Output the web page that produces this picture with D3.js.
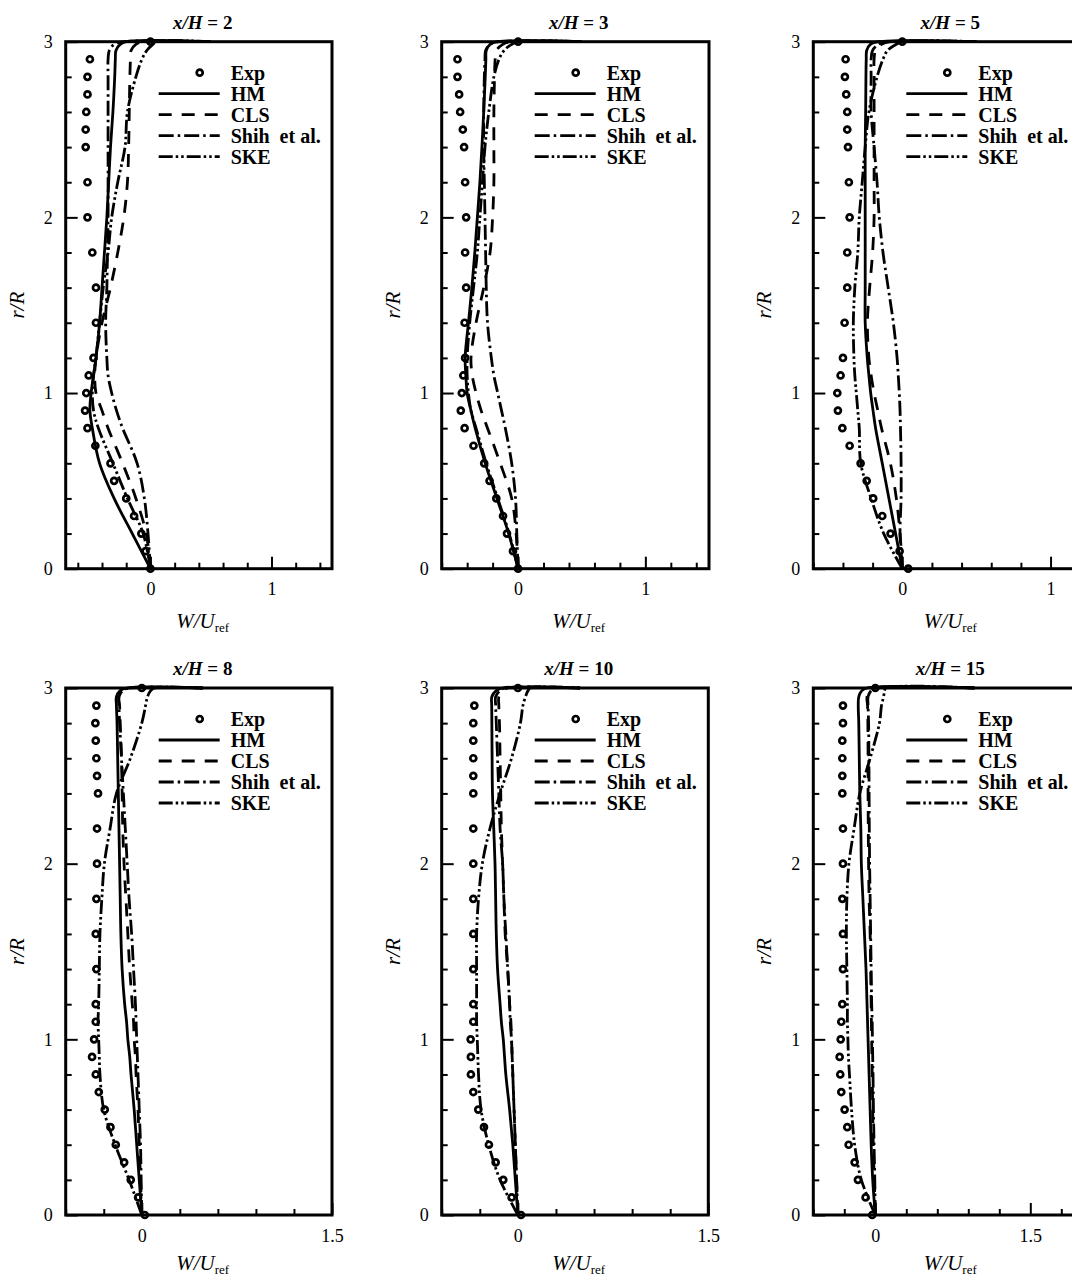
<!DOCTYPE html>
<html>
<head>
<meta charset="utf-8">
<script src="https://cdn.jsdelivr.net/npm/d3@7"></script>
<style>
  body { margin: 0; background: #fff; }
  svg { display: block; font-family: "Liberation Serif", "Times New Roman", serif; }
</style>
</head>
<body>
<svg id="chart" width="1072" height="1279"></svg>
<script>
// r/R of the measured points, wall to axis
const rExp = [3.0, 2.9, 2.8, 2.7, 2.6, 2.5, 2.4, 2.2, 2.0, 1.8, 1.6, 1.4, 1.2, 1.1, 1.0, 0.9, 0.8, 0.7, 0.6, 0.5, 0.4, 0.3, 0.2, 0.1, 0.0];
// r/R of the model curves, axis to wall (the last two run along the wall)
const rModel = [0, 0.2, 0.4, 0.6, 0.8, 0.9, 1.0, 1.1, 1.2, 1.4, 1.6, 1.8, 2.0, 2.2, 2.4, 2.6, 2.8, 2.9, 2.95, 2.985, 3.0, 3.0];

const titles = ["2", "3", "5", "8", "10", "15"];
const legendNames = ["Exp", "HM", "CLS", "Shih  et al.", "SKE"];

// x/H = 2
const exp2  = [0, -0.50, -0.52, -0.52, -0.53, -0.535, -0.535, -0.52, -0.52, -0.48, -0.45, -0.45, -0.47, -0.51, -0.53, -0.54, -0.52, -0.455, -0.33, -0.30, -0.20, -0.135, -0.075, -0.04, 0];
const hm2   = [0, -0.15, -0.30, -0.42, -0.48, -0.50, -0.49, -0.47, -0.45, -0.42, -0.40, -0.38, -0.36, -0.345, -0.33, -0.31, -0.295, -0.29, -0.285, -0.25, -0.2, 0.5];
const cls2  = [0, -0.035, -0.12, -0.23, -0.35, -0.40, -0.45, -0.46, -0.45, -0.40, -0.33, -0.27, -0.22, -0.19, -0.18, -0.175, -0.17, -0.165, -0.16, -0.12, -0.05, 0.5];
const shih2 = [0, -0.02, -0.05, -0.11, -0.23, -0.28, -0.32, -0.35, -0.36, -0.37, -0.36, -0.355, -0.35, -0.35, -0.35, -0.35, -0.35, -0.35, -0.34, -0.30, -0.22, 0.5];
const ske2  = [0, -0.06, -0.19, -0.31, -0.43, -0.47, -0.48, -0.47, -0.45, -0.42, -0.39, -0.35, -0.32, -0.27, -0.21, -0.19, -0.12, -0.07, -0.03, 0.02, 0.05, 0.5];

// x/H = 3
const exp3  = [0, -0.476, -0.476, -0.463, -0.455, -0.434, -0.424, -0.416, -0.408, -0.416, -0.408, -0.42, -0.416, -0.43, -0.442, -0.45, -0.42, -0.35, -0.266, -0.224, -0.171, -0.118, -0.087, -0.04, 0];
const hm3   = [0, -0.074, -0.166, -0.258, -0.337, -0.37, -0.40, -0.41, -0.416, -0.39, -0.363, -0.34, -0.32, -0.30, -0.284, -0.27, -0.258, -0.253, -0.25, -0.22, -0.16, 0.5];
const cls3  = [0, -0.015, -0.05, -0.14, -0.24, -0.29, -0.33, -0.36, -0.37, -0.33, -0.27, -0.22, -0.20, -0.19, -0.19, -0.19, -0.185, -0.18, -0.17, -0.12, -0.05, 0.5];
const shih3 = [0, -0.01, -0.02, -0.05, -0.10, -0.13, -0.16, -0.19, -0.21, -0.24, -0.25, -0.255, -0.26, -0.265, -0.27, -0.27, -0.265, -0.26, -0.255, -0.22, -0.15, 0.5];
const ske3  = [0, -0.07, -0.16, -0.25, -0.33, -0.37, -0.39, -0.40, -0.40, -0.38, -0.35, -0.32, -0.30, -0.28, -0.26, -0.23, -0.19, -0.15, -0.11, -0.05, 0.0, 0.5];

// x/H = 5
const exp5  = [0, -0.382, -0.387, -0.378, -0.371, -0.371, -0.366, -0.36, -0.355, -0.371, -0.371, -0.389, -0.40, -0.416, -0.438, -0.434, -0.404, -0.355, -0.281, -0.24, -0.196, -0.135, -0.079, -0.018, 0.04];
const hm5   = [0, -0.045, -0.09, -0.135, -0.18, -0.197, -0.213, -0.225, -0.236, -0.25, -0.25, -0.25, -0.25, -0.25, -0.25, -0.247, -0.245, -0.243, -0.24, -0.215, -0.16, 0.5];
const cls5  = [0, -0.015, -0.04, -0.08, -0.14, -0.165, -0.19, -0.21, -0.225, -0.235, -0.22, -0.20, -0.19, -0.19, -0.19, -0.19, -0.19, -0.19, -0.18, -0.14, -0.08, 0.5];
const shih5 = [0, -0.015, -0.008, -0.008, -0.012, -0.015, -0.02, -0.027, -0.035, -0.06, -0.095, -0.13, -0.155, -0.17, -0.19, -0.21, -0.21, -0.21, -0.20, -0.16, -0.10, 0.5];
const ske5  = [0, -0.125, -0.21, -0.28, -0.29, -0.30, -0.31, -0.32, -0.326, -0.33, -0.32, -0.30, -0.29, -0.27, -0.25, -0.225, -0.17, -0.13, -0.10, -0.04, 0.0, 0.5];

// x/H = 8
const exp8  = [0, -0.358, -0.366, -0.363, -0.358, -0.353, -0.345, -0.353, -0.353, -0.358, -0.363, -0.358, -0.363, -0.363, -0.376, -0.392, -0.363, -0.339, -0.292, -0.247, -0.205, -0.139, -0.087, -0.029, 0.024];
const hm8   = [0, -0.02, -0.04, -0.06, -0.085, -0.095, -0.11, -0.12, -0.135, -0.155, -0.165, -0.17, -0.175, -0.18, -0.185, -0.19, -0.195, -0.2, -0.2, -0.17, -0.12, 0.48];
const cls8  = [0, -0.01, -0.02, -0.03, -0.045, -0.05, -0.06, -0.065, -0.075, -0.095, -0.11, -0.125, -0.14, -0.15, -0.155, -0.16, -0.17, -0.175, -0.18, -0.15, -0.10, 0.48];
const shih8 = [0, -0.005, -0.01, -0.02, -0.03, -0.035, -0.04, -0.045, -0.05, -0.065, -0.08, -0.10, -0.115, -0.13, -0.145, -0.16, -0.175, -0.18, -0.18, -0.15, -0.10, 0.48];
const ske8  = [0, -0.10, -0.21, -0.30, -0.33, -0.335, -0.34, -0.345, -0.34, -0.335, -0.33, -0.315, -0.295, -0.25, -0.20, -0.09, 0.0, 0.03, 0.045, 0.07, 0.10, 0.48];

// x/H = 10
const exp10  = [0, -0.343, -0.351, -0.351, -0.351, -0.351, -0.351, -0.351, -0.351, -0.351, -0.351, -0.351, -0.351, -0.351, -0.372, -0.37, -0.37, -0.351, -0.312, -0.267, -0.228, -0.175, -0.115, -0.049, 0.025];
const hm10   = [0, -0.02, -0.04, -0.065, -0.095, -0.105, -0.115, -0.13, -0.14, -0.16, -0.17, -0.175, -0.18, -0.19, -0.20, -0.203, -0.205, -0.206, -0.205, -0.17, -0.12, 0.49];
const cls10  = [0, -0.01, -0.02, -0.03, -0.04, -0.045, -0.05, -0.055, -0.065, -0.08, -0.10, -0.11, -0.12, -0.13, -0.135, -0.14, -0.145, -0.15, -0.15, -0.12, -0.08, 0.49];
const shih10 = [0, -0.01, -0.02, -0.03, -0.04, -0.045, -0.05, -0.06, -0.065, -0.08, -0.095, -0.11, -0.12, -0.14, -0.15, -0.16, -0.17, -0.175, -0.175, -0.14, -0.10, 0.49];
const ske10  = [0, -0.14, -0.23, -0.29, -0.31, -0.315, -0.32, -0.325, -0.325, -0.325, -0.325, -0.31, -0.28, -0.22, -0.14, -0.05, 0.02, 0.04, 0.06, 0.08, 0.10, 0.49];

// x/H = 15
const exp15  = [0, -0.313, -0.313, -0.319, -0.319, -0.319, -0.319, -0.313, -0.313, -0.319, -0.313, -0.313, -0.319, -0.329, -0.335, -0.345, -0.339, -0.329, -0.297, -0.271, -0.258, -0.20, -0.168, -0.094, -0.03];
const hm15   = [0, -0.025, -0.04, -0.05, -0.06, -0.065, -0.07, -0.075, -0.08, -0.09, -0.105, -0.12, -0.135, -0.14, -0.15, -0.155, -0.16, -0.165, -0.16, -0.13, -0.08, 0.96];
const cls15  = [0, -0.01, -0.02, -0.025, -0.03, -0.033, -0.035, -0.038, -0.04, -0.045, -0.05, -0.06, -0.065, -0.068, -0.07, -0.07, -0.072, -0.075, -0.08, -0.05, 0.0, 0.96];
const shih15 = [0, -0.005, -0.012, -0.018, -0.022, -0.025, -0.028, -0.03, -0.035, -0.04, -0.045, -0.05, -0.055, -0.058, -0.06, -0.062, -0.065, -0.07, -0.07, -0.04, 0.0, 0.96];
const ske15  = [0, -0.135, -0.20, -0.23, -0.25, -0.26, -0.265, -0.27, -0.27, -0.275, -0.28, -0.275, -0.255, -0.205, -0.15, -0.05, 0.04, 0.06, 0.08, 0.09, 0.10, 0.96];

const expSets = [exp2, exp3, exp5, exp8, exp10, exp15];
const modelSets = [
  [hm2, cls2, shih2, ske2],
  [hm3, cls3, shih3, ske3],
  [hm5, cls5, shih5, ske5],
  [hm8, cls8, shih8, ske8],
  [hm10, cls10, shih10, ske10],
  [hm15, cls15, shih15, ske15]
];

// frame placement of each panel
const frames = [
  {left: 65.7,  top: 41.7, width: 266.3, xDom: [-0.7, 1.5], step: 0.2, major: [0, 1]},
  {left: 441.7, top: 41.7, width: 267.3, xDom: [-0.6, 1.5], step: 0.2, major: [0, 1]},
  {left: 813.3, top: 41.7, width: 311.4, xDom: [-0.6, 1.5], step: 0.2, major: [0, 1]},
  {left: 65.7,  top: 688,  width: 266.3, xDom: [-0.6, 1.5], step: 0.3, major: [0, 1.5]},
  {left: 441.7, top: 688,  width: 266.6, xDom: [-0.6, 1.5], step: 0.3, major: [0, 1.5]},
  {left: 813.3, top: 688,  width: 310,   xDom: [-0.6, 2.4], step: 0.3, major: [0, 1.5]}
];
const frameH = 527;

const dashes = [null, "13,10", "15,4,2.5,4", "14,3,2.5,3,2.5,3"];

const svg = d3.select("#chart");

function stepTicks(dom, step) {
  const lo = Math.ceil(dom[0] / step - 1e-9), hi = Math.floor(dom[1] / step + 1e-9);
  return d3.range(lo, hi + 1).map(k => +(k * step).toFixed(2));
}

frames.forEach((f, i) => {
  const x = d3.scaleLinear().domain(f.xDom).range([f.left, f.left + f.width]);
  const y = d3.scaleLinear().domain([0, 3]).range([f.top + frameH, f.top]);
  const g = svg.append("g");

  // model curves
  const line = d3.line()
    .x(d => x(d[0]))
    .y(d => y(d[1]))
    .curve(d3.curveCatmullRom.alpha(0.5));

  modelSets[i].forEach((w, k) => {
    g.append("path")
      .datum(w.map((v, j) => [v, rModel[j]]))
      .attr("d", line)
      .attr("fill", "none")
      .attr("stroke", "#000")
      .attr("stroke-width", 2.8)
      .attr("stroke-dasharray", dashes[k]);
  });

  // axes, ticks inward
  const xMinor = stepTicks(f.xDom, f.step).filter(v => !f.major.includes(v));
  const yMinor = stepTicks([0, 3], 0.2).filter(v => !Number.isInteger(v));

  const bottom = g.append("g").attr("transform", `translate(0,${y(0)})`);
  bottom.call(d3.axisBottom(x).tickValues(xMinor).tickSize(-6).tickFormat(""));
  bottom.append("g").call(d3.axisBottom(x).tickValues(f.major).tickSize(-12).tickPadding(14).tickFormat(d3.format("")));

  const left = g.append("g").attr("transform", `translate(${f.left},0)`);
  left.call(d3.axisLeft(y).tickValues(yMinor).tickSize(-6).tickFormat(""));
  left.append("g").call(d3.axisLeft(y).tickValues([0, 1, 2, 3]).tickSize(-12).tickPadding(13).tickFormat(d3.format("d")));

  g.selectAll(".domain").remove();
  g.selectAll(".tick line").attr("stroke", "#000").attr("stroke-width", 2);
  g.selectAll(".tick text").attr("fill", "#000").attr("font-size", 18)
    .attr("font-family", "'Liberation Serif', 'Times New Roman', serif");

  g.append("rect")
    .attr("x", f.left).attr("y", f.top)
    .attr("width", f.width).attr("height", frameH)
    .attr("fill", "none").attr("stroke", "#000").attr("stroke-width", 3);

  // experimental points
  g.selectAll("circle.exp")
    .data(expSets[i].map((v, j) => [v, rExp[j]]))
    .join("circle")
    .attr("class", "exp")
    .attr("cx", d => x(d[0]))
    .attr("cy", d => y(d[1]))
    .attr("r", 3)
    .attr("fill", "none")
    .attr("stroke", "#000")
    .attr("stroke-width", 2.7);

  // title
  const t = g.append("text")
    .attr("x", f.left + 137).attr("y", f.top - 13)
    .attr("text-anchor", "middle")
    .attr("font-size", 19).attr("font-weight", "bold");
  t.append("tspan").attr("font-style", "italic").text("x/H");
  t.append("tspan").text(" = " + titles[i]);

  // axis titles (kept inside the page at the bottom row)
  const labelY = Math.min(f.top + frameH + 59, 1279 - 9);
  const xl = g.append("text")
    .attr("x", f.left + 137).attr("y", labelY)
    .attr("text-anchor", "middle").attr("font-size", 21);
  xl.append("tspan").attr("font-style", "italic").text("W/U");
  xl.append("tspan").attr("font-size", 13).attr("dy", 4).text("ref");

  g.append("text")
    .attr("transform", `translate(${f.left - 42},${f.top + frameH / 2}) rotate(-90)`)
    .attr("text-anchor", "middle")
    .attr("font-size", 21).attr("font-style", "italic")
    .text("r/R");

  // legend
  const lx0 = f.left + 93, lx1 = f.left + 154, tx = f.left + 165;
  legendNames.forEach((name, k) => {
    const ry = f.top + 31 + k * 21;
    if (k === 0) {
      g.append("circle").attr("cx", f.left + 134).attr("cy", ry).attr("r", 3)
        .attr("fill", "none").attr("stroke", "#000").attr("stroke-width", 2.7);
    } else {
      g.append("line").attr("x1", lx0).attr("x2", lx1).attr("y1", ry).attr("y2", ry)
        .attr("stroke", "#000").attr("stroke-width", 2.8)
        .attr("stroke-dasharray", dashes[k - 1]);
    }
    g.append("text").attr("x", tx).attr("y", ry + 7)
      .attr("font-size", 20).attr("font-weight", "bold")
      .attr("xml:space", "preserve")
      .text(name);
  });
});
</script>
</body>
</html>
